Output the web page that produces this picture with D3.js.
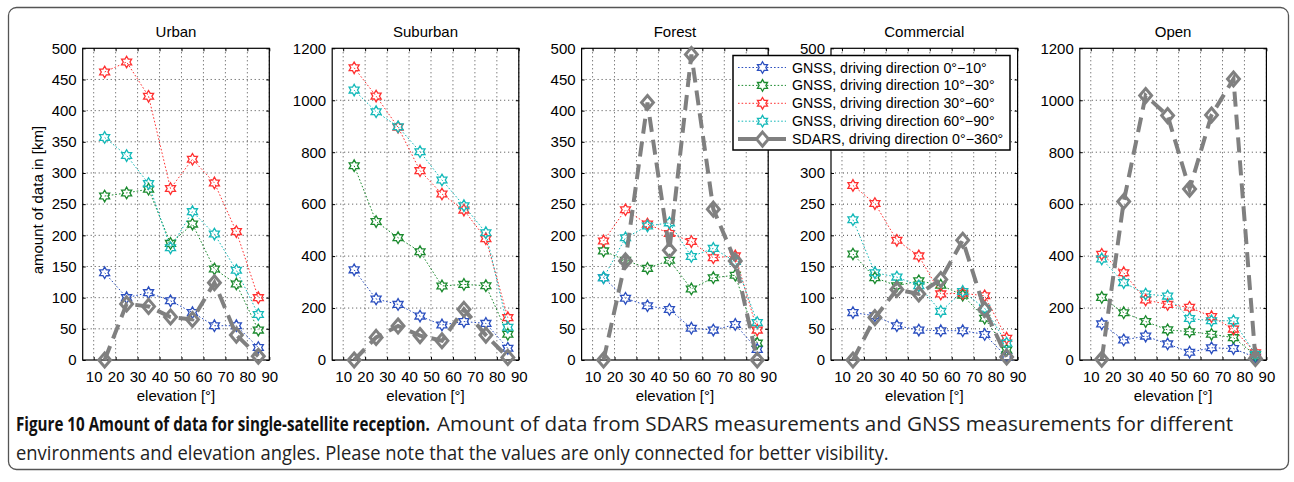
<!DOCTYPE html>
<html>
<head>
<meta charset="utf-8">
<script src="https://cdn.jsdelivr.net/npm/d3@7"></script>
<style>
  html, body { margin: 0; padding: 0; background: #fff; }
  svg { display: block; }
</style>
</head>
<body>
<svg id="chart" width="1294" height="482"></svg>
<script>
// Elevation bins (degrees) at which the amounts are evaluated
const elevations = [15, 25, 35, 45, 55, 65, 75, 85];
const xTicks = [10, 20, 30, 40, 50, 60, 70, 80, 90];

const environments = ["Urban", "Suburban", "Forest", "Commercial", "Open"];
const yMaxima = [500, 1200, 500, 500, 1200];
const ySteps = [50, 200, 50, 50, 200];

const seriesLabels = [
  "GNSS, driving direction 0°\u221210°",
  "GNSS, driving direction 10°\u221230°",
  "GNSS, driving direction 30°\u221260°",
  "GNSS, driving direction 60°\u221290°",
  "SDARS, driving direction 0°\u2212360°"
];
const seriesColors = ["#2b4fbf", "#1b8a2e", "#ff3030", "#14b9b9", "#808080"];

// Amount of data in km — Urban
const urban_0_10   = [140, 100, 108, 95, 76, 55, 55, 20];
const urban_10_30  = [263, 268, 274, 187, 218, 146, 122, 48];
const urban_30_60  = [462, 478, 423, 275, 322, 284, 206, 100];
const urban_60_90  = [357, 328, 283, 180, 238, 202, 144, 73];
const urban_sdars  = [0, 90, 86, 69, 65, 124, 40, 6];

// Suburban
const suburban_0_10  = [347, 235, 214, 169, 135, 148, 141, 45];
const suburban_10_30 = [748, 533, 471, 417, 285, 291, 286, 99];
const suburban_30_60 = [1125, 1016, 896, 729, 639, 577, 467, 163];
const suburban_60_90 = [1039, 956, 898, 802, 693, 594, 490, 126];
const suburban_sdars = [0, 87, 131, 94, 74, 195, 96, 10];

// Forest
const forest_0_10  = [132, 99, 87, 81, 51, 48, 57, 17];
const forest_10_30 = [175, 160, 147, 160, 114, 132, 136, 27];
const forest_30_60 = [191, 241, 218, 203, 190, 164, 167, 48];
const forest_60_90 = [132, 196, 215, 220, 166, 179, 158, 60];
const forest_sdars = [0, 159, 413, 176, 490, 242, 159, 0];

// Commercial
const commercial_0_10  = [76, 71, 55, 48, 47, 47, 41, 5];
const commercial_10_30 = [170, 132, 119, 127, 120, 104, 67, 16];
const commercial_30_60 = [280, 251, 192, 167, 106, 107, 103, 35];
const commercial_60_90 = [225, 140, 133, 119, 78, 110, 83, 27];
const commercial_sdars = [0, 68, 113, 106, 129, 192, 81, 5];

// Open
const open_0_10  = [139, 77, 92, 62, 30, 47, 44, 10];
const open_10_30 = [241, 182, 148, 116, 109, 99, 86, 19];
const open_30_60 = [407, 336, 231, 214, 203, 167, 119, 28];
const open_60_90 = [389, 298, 254, 246, 160, 151, 151, 22];
const open_sdars = [3, 610, 1018, 941, 658, 943, 1082, 6];

const panelSeries = [
  [urban_0_10, urban_10_30, urban_30_60, urban_60_90, urban_sdars],
  [suburban_0_10, suburban_10_30, suburban_30_60, suburban_60_90, suburban_sdars],
  [forest_0_10, forest_10_30, forest_30_60, forest_60_90, forest_sdars],
  [commercial_0_10, commercial_10_30, commercial_30_60, commercial_60_90, commercial_sdars],
  [open_0_10, open_10_30, open_30_60, open_60_90, open_sdars]
];

const captionBold = "Figure 10 Amount of data for single-satellite reception.";
const captionRest1 = "Amount of data from SDARS measurements and GNSS measurements for different";
const captionRest2 = "environments and elevation angles. Please note that the values are only connected for better visibility.";

// ---- layout ----
const svg = d3.select("#chart");
const FONT = "'Liberation Sans', Arial, Helvetica, sans-serif";
const axesLeft = [82.7, 332.2, 581.6, 831, 1079.8];
const axesW = 186.6;
const axesTop = 48.3, axesBottom = 360;

// legend box geometry (drawn last, over the Forest/Commercial panels)
const legendBox = { x: 733, y: 55.5, w: 277, h: 94.5 };

// outer frame
svg.append("rect")
  .attr("x", 8.5).attr("y", 7.5).attr("width", 1280).attr("height", 462)
  .attr("rx", 8).attr("ry", 8)
  .attr("fill", "none").attr("stroke", "#555").attr("stroke-width", 1.3);

// six-pointed star outline
function hexagram(R) {
  const r = R / Math.sqrt(3);
  const pts = [];
  for (let k = 0; k < 12; k++) {
    const a = -Math.PI / 2 + k * Math.PI / 6;
    const rad = k % 2 === 0 ? R : r;
    pts.push([rad * Math.cos(a), rad * Math.sin(a)]);
  }
  return "M" + pts.map(p => p[0].toFixed(2) + "," + p[1].toFixed(2)).join("L") + "Z";
}
function diamond(h) {
  const w = h * 0.85;
  return `M0,${-h}L${w},0L0,${h}L${-w},0Z`;
}
const starPath = hexagram(5.8);
const diamondPath = diamond(7);

environments.forEach((name, i) => {
  const x = d3.scaleLinear().domain([5, 90]).range([axesLeft[i], axesLeft[i] + axesW]);
  const y = d3.scaleLinear().domain([0, yMaxima[i]]).range([axesBottom, axesTop]);
  const yTicks = d3.range(0, yMaxima[i] + 1, ySteps[i]);
  const g = svg.append("g");

  // dotted grid
  g.append("g").selectAll("line").data(xTicks).join("line")
    .attr("x1", d => x(d)).attr("x2", d => x(d))
    .attr("y1", axesTop).attr("y2", axesBottom)
    .attr("stroke", "#333").attr("stroke-width", 0.9).attr("stroke-dasharray", "1,3");
  g.append("g").selectAll("line").data(yTicks.slice(1, -1)).join("line")
    .attr("x1", axesLeft[i]).attr("x2", axesLeft[i] + axesW)
    .attr("y1", d => y(d)).attr("y2", d => y(d))
    .attr("stroke", "#333").attr("stroke-width", 0.9).attr("stroke-dasharray", "1,3");

  // y labels that would sit behind the legend box are left out
  const hiddenByLegend = v => {
    const ly = y(v);
    const lx = axesLeft[i] - 6;
    return lx > legendBox.x && lx - 25 < legendBox.x + legendBox.w &&
           ly > legendBox.y - 4 && ly < legendBox.y + legendBox.h + 4;
  };

  // axes with inward ticks on all four sides
  const styleAxis = sel => {
    sel.select(".domain").remove();
    sel.selectAll(".tick line").attr("stroke", "#000").attr("stroke-width", 1);
  };
  g.append("g").attr("transform", `translate(0,${axesBottom})`)
    .call(d3.axisBottom(x).tickValues(xTicks).tickSizeInner(-3).tickSizeOuter(0).tickPadding(11.3).tickFormat(d3.format("d")))
    .call(styleAxis);
  g.append("g").attr("transform", `translate(0,${axesTop})`)
    .call(d3.axisTop(x).tickValues(xTicks).tickSizeInner(-3).tickSizeOuter(0).tickFormat(""))
    .call(styleAxis);
  g.append("g").attr("transform", `translate(${axesLeft[i]},0)`)
    .call(d3.axisLeft(y).tickValues(yTicks).tickSizeInner(-3).tickSizeOuter(0).tickPadding(6)
      .tickFormat(v => hiddenByLegend(v) ? "" : d3.format("d")(v)))
    .call(styleAxis);
  g.append("g").attr("transform", `translate(${axesLeft[i] + axesW},0)`)
    .call(d3.axisRight(y).tickValues(yTicks).tickSizeInner(-3).tickSizeOuter(0).tickFormat(""))
    .call(styleAxis);
  g.selectAll(".tick text").attr("font-family", FONT).attr("font-size", 15).attr("fill", "#000");

  // box
  g.append("rect")
    .attr("x", axesLeft[i]).attr("y", axesTop)
    .attr("width", axesW).attr("height", axesBottom - axesTop)
    .attr("fill", "none").attr("stroke", "#000").attr("stroke-width", 1.2);

  // title and x label
  g.append("text").attr("x", axesLeft[i] + axesW / 2).attr("y", 36.7)
    .attr("text-anchor", "middle").attr("font-family", FONT).attr("font-size", 15)
    .text(name);
  g.append("text").attr("x", axesLeft[i] + axesW / 2).attr("y", 401)
    .attr("text-anchor", "middle").attr("font-family", FONT).attr("font-size", 15)
    .text("elevation [°]");

  if (i === 0) {
    g.append("text")
      .attr("transform", `translate(43,${(axesTop + axesBottom) / 2 - 4}) rotate(-90)`)
      .attr("text-anchor", "middle").attr("font-family", FONT).attr("font-size", 15)
      .text("amount of data in [km]");
  }

  const line = d3.line().x((d, k) => x(elevations[k])).y(d => y(d));

  // GNSS series: thin dotted lines with star markers
  panelSeries[i].slice(0, 4).forEach((vals, s) => {
    g.append("path").attr("d", line(vals))
      .attr("fill", "none").attr("stroke", seriesColors[s])
      .attr("stroke-width", 1).attr("stroke-dasharray", "1.6,2");
    g.append("g").selectAll("path").data(vals).join("path")
      .attr("transform", (d, k) => `translate(${x(elevations[k])},${y(d)})`)
      .attr("d", starPath).attr("fill", "none")
      .attr("stroke", seriesColors[s]).attr("stroke-width", 1.3);
  });

  // SDARS: thick dashed grey line with diamond markers
  const sd = panelSeries[i][4];
  g.append("path").attr("d", line(sd))
    .attr("fill", "none").attr("stroke", seriesColors[4])
    .attr("stroke-width", 4).attr("stroke-dasharray", "15,8");
  g.append("g").selectAll("path").data(sd).join("path")
    .attr("transform", (d, k) => `translate(${x(elevations[k])},${y(d)})`)
    .attr("d", diamondPath).attr("fill", "none")
    .attr("stroke", seriesColors[4]).attr("stroke-width", 3);
});

// legend
const lg = svg.append("g");
lg.append("rect").attr("x", legendBox.x).attr("y", legendBox.y)
  .attr("width", legendBox.w).attr("height", legendBox.h)
  .attr("fill", "#fff").attr("stroke", "#000").attr("stroke-width", 1.5);
seriesLabels.forEach((lab, s) => {
  const cy = 67.5 + s * 17.9;
  const isSdars = s === 4;
  lg.append("line").attr("x1", 738).attr("x2", 786).attr("y1", cy).attr("y2", cy)
    .attr("stroke", seriesColors[s])
    .attr("stroke-width", isSdars ? 4 : 1)
    .attr("stroke-dasharray", isSdars ? null : "1.6,2");
  lg.append("path").attr("transform", `translate(762.5,${cy})`)
    .attr("d", isSdars ? diamondPath : starPath).attr("fill", "#fff")
    .attr("stroke", seriesColors[s]).attr("stroke-width", isSdars ? 3 : 1.3);
  lg.append("text").attr("x", 792).attr("y", cy + 5)
    .attr("font-family", FONT).attr("font-size", 14.2).text(lab);
});

// caption: condensed by a horizontal scale so each run spans its measured width
const CAP = "'Open Sans', 'Noto Sans', sans-serif";
function captionRun(str, x0, yBase, width, bold, color) {
  const t = svg.append("text").attr("x", 0).attr("y", 0)
    .attr("font-family", CAP).attr("font-size", 20)
    .attr("font-weight", bold ? 700 : 400).attr("fill", color).text(str);
  const natural = t.node().getComputedTextLength();
  t.attr("transform", `translate(${x0},${yBase}) scale(${width / natural},1)`);
}
captionRun(captionBold, 16, 431, 414, true, "#111");
captionRun(captionRest1, 437, 431, 797, false, "#222");
captionRun(captionRest2, 16, 460, 873, false, "#222");
</script>
</body>
</html>
